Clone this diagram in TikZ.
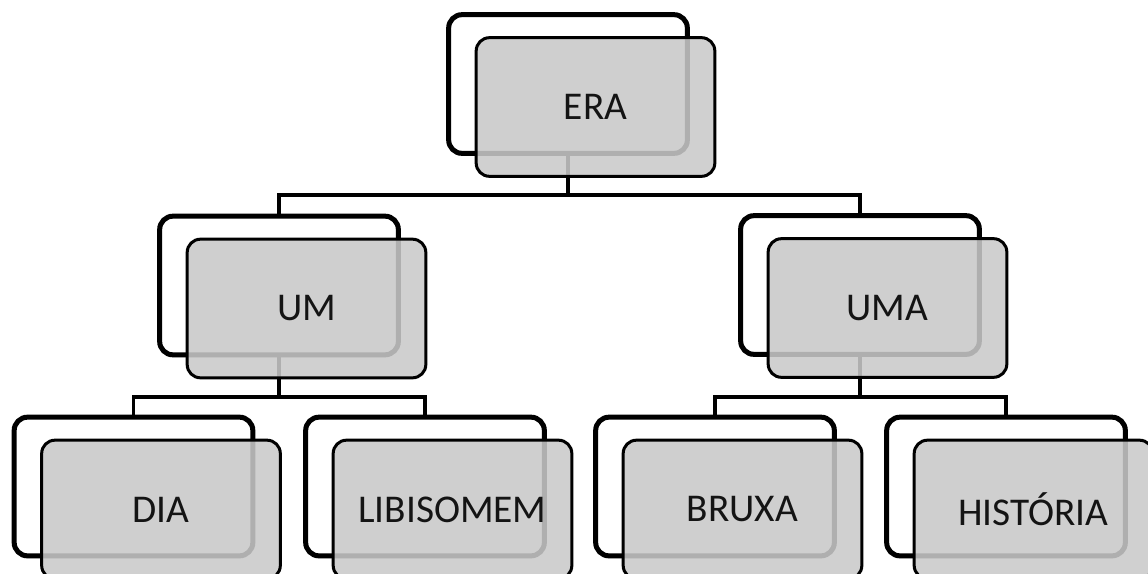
\documentclass[tikz,border=0pt]{standalone}
\usepackage{fontspec}
\setmainfont{Carlito}
\usetikzlibrary{shadows}
\definecolor{frontgray}{RGB}{201,201,201}
\definecolor{txt}{RGB}{20,20,20}
\tikzset{
  backbox/.style={draw=black, line width=3.75pt, fill=white, rounded corners=10pt,
    minimum width=179pt, minimum height=104pt, inner sep=0pt,
    drop shadow={shadow xshift=-0.6pt, shadow yshift=-1.8pt, opacity=0.3, fill=black}},
  frontbox/.style={draw=black, line width=2.25pt, fill=frontgray, fill opacity=0.875,
    text opacity=1, text=txt, rounded corners=10pt,
    minimum width=179pt, minimum height=104pt, inner sep=0pt,
    font=\fontsize{29.5}{34}\selectfont},
  conn/.style={draw=black, line width=2.4pt}
}
\begin{document}
\begin{tikzpicture}[x=0.75pt, y=-0.75pt]
\useasboundingbox (0,0) rectangle (1148,574);
\clip (0,0) rectangle (1148,574);
% centres of back boxes
\coordinate (cera) at (568,84);
\coordinate (cum) at (279,285.5);
\coordinate (cuma) at (860,285);
\coordinate (cdia) at (133.5,486.5);
\coordinate (clib) at (425,486.5);
\coordinate (cbru) at (715,486.5);
\coordinate (chis) at (1006,486.5);
% back boxes
\node[backbox] (eraB) at (cera) {};
\node[backbox] (umB) at (cum) {};
\node[backbox] (umaB) at (cuma) {};
\node[backbox] (diaB) at (cdia) {};
\node[backbox] (libB) at (clib) {};
\node[backbox] (bruB) at (cbru) {};
\node[backbox] (hisB) at (chis) {};
% connectors
\coordinate (h1) at (0,195);
\coordinate (h2) at (0,397);
\draw[conn] (eraB.south) -- (eraB.south |- h1) -| (umB.north);
\draw[conn] (eraB.south |- h1) -| (umaB.north);
\draw[conn] (umB.south) -- (umB.south |- h2) -| (diaB.north);
\draw[conn] (umB.south |- h2) -| (libB.north);
\draw[conn] (umaB.south) -- (umaB.south |- h2) -| (bruB.north);
\draw[conn] (umaB.south |- h2) -| (hisB.north);
% front boxes
\node[frontbox] (era) at ([shift={(27.5,23)}]cera) {ERA};
\node[frontbox] (um) at ([shift={(27.5,23)}]cum) {UM};
\node[frontbox] (uma) at ([shift={(27.5,23)}]cuma) {UMA};
\node[frontbox] (dia) at ([shift={(27.5,23)}]cdia) {DIA};
\node[frontbox] (lib) at ([shift={(27.5,23)}]clib) {LIBISOMEM};
\node[frontbox] (bru) at ([shift={(27.5,23)}]cbru) {BRUXA};
\node[frontbox] (his) at ([shift={(27.5,23)}]chis) {HISTÓRIA};
\end{tikzpicture}
\end{document}
